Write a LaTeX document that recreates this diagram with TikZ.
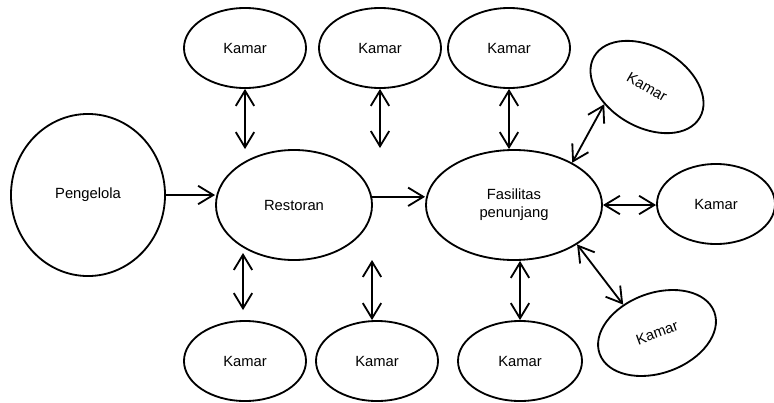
\documentclass[tikz,border=0pt]{standalone}
\usepackage{fontspec}
\setmainfont{Liberation Sans}
\usetikzlibrary{shapes,arrows.meta}
\tikzset{box/.style={draw,ellipse,line width=1.3pt,inner sep=0pt,text=black,
font=\fontsize{10.5}{12.6}\selectfont,align=center},
kamar/.style={box,minimum width=3.05cm,minimum height=2cm}}
\tikzstyle{arrow}    = [line width=1.3pt,-{Straight Barb[length=3.8mm,width=4.6mm]}]
\tikzstyle{dblarrow} = [arrow,{Straight Barb[length=3.8mm,width=4.6mm]}-{Straight Barb[length=3.8mm,width=4.6mm]}]
\begin{document}
\begin{tikzpicture}[x=0.025cm,y=-0.025cm]
		\useasboundingbox (0,0) rectangle (774,402);
		% pusat
		\node[box,minimum width=3.85cm,minimum height=4.05cm] (peng) at (88,195) {Pengelola};
		\node[box,minimum width=3.9cm,minimum height=2.75cm] (res) at (294,205) {Restoran};
		\node[box,minimum width=4.4cm,minimum height=2.75cm] (fas) at (514,205) {Fasilitas\\penunjang};
		% kamar atas
		\node[kamar] (ka1) at (245,48) {Kamar};
		\node[kamar] (ka2) at (380,48) {Kamar};
		\node[kamar] (ka3) at (509,48) {Kamar};
		\node[kamar,rotate=-30] (ka4) at (647,87) {Kamar};
		% kamar kanan
		\node[kamar,minimum width=2.95cm] (kk) at (716,204) {Kamar};
		% kamar bawah
		\node[kamar] (kb1) at (245,361) {Kamar};
		\node[kamar] (kb2) at (377,361) {Kamar};
		\node[kamar,minimum width=3.1cm] (kb3) at (520,361) {Kamar};
		\node[kamar,rotate=20] (kb4) at (657,333) {Kamar};
		% ujung bebas
		\coordinate (ua) at (380,148);
		\coordinate (ub1) at (243,253);
		\coordinate (ub2) at (372,260);
		% panah
		\draw[arrow] (peng.east) -- (peng.east -| res.west);
		\draw[arrow] (res.6) -- (res.6 -| fas.west);
		\draw[dblarrow] (ka1.south) -- (ka1.south |- res.north);
		\draw[dblarrow] (ka2.south) -- (ua);
		\draw[dblarrow] (ka3.south) -- (ka3.south |- fas.north);
		\draw[dblarrow] (fas.36) -- (ka4.232);
		\draw[dblarrow] (fas.east) -- (fas.east -| kk.west);
		\draw[dblarrow] (fas.328) -- (kb4.120);
		\draw[dblarrow] (kb3.north |- fas.south) -- (kb3.north);
		\draw[dblarrow,shorten >=0.25cm] (ub1) -- (ub1 |- kb1.north);
		\draw[dblarrow] (ub2) -- (ub2 |- kb2.north);
	\end{tikzpicture}
\end{document}
